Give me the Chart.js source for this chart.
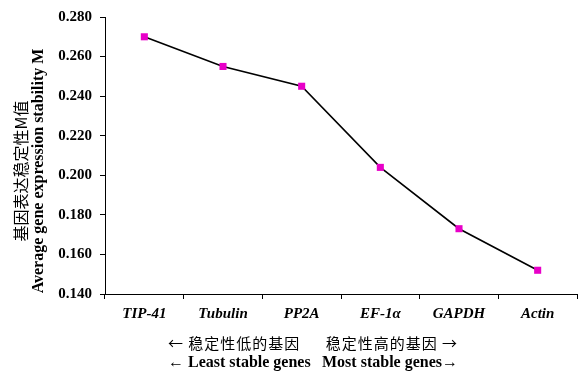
<!DOCTYPE html>
<html>
<head>
<meta charset="utf-8">
<script src="https://cdn.jsdelivr.net/npm/chart.js@4"></script>
<style>
  body { margin: 0; background: #fff; }
  #wrap { width: 587px; height: 376px; }
</style>
</head>
<body>
<div id="wrap"><canvas id="chart"></canvas></div>
<script>
const genes = ['TIP-41', 'Tubulin', 'PP2A', 'EF-1\u03b1', 'GAPDH', 'Actin'];
const stabilityM = [0.270, 0.255, 0.245, 0.204, 0.173, 0.152];
const yTitle = ['基因表达稳定性M值', 'Average gene expression stability M'];
const bottomNotes = [
  ['← 稳定性低的基因', '稳定性高的基因 →'],
  ['← Least stable genes', 'Most stable genes→']
];

const serif = '"Liberation Serif", "Times New Roman", serif';
const cjk = '"Noto Sans CJK SC", sans-serif';

// titles and the bottom notes are drawn by hand
const textPlugin = {
  id: 'extraText',
  afterDraw(chart) {
    const ctx = chart.ctx;
    const area = chart.chartArea;
    ctx.save();
    ctx.fillStyle = '#000';
    ctx.textBaseline = 'middle';

    // y title, rotated
    ctx.save();
    ctx.translate(21, 171);
    ctx.rotate(-Math.PI / 2);
    ctx.textAlign = 'center';
    ctx.font = '16px ' + cjk;
    ctx.fillText(yTitle[0], 0, 0);
    ctx.font = 'bold 16px ' + serif;
    ctx.fillText(yTitle[1], 0, 18);
    ctx.restore();

    // bottom notes
    const lx = area.left + 63, rx = area.left + 353;
    ctx.font = '15px ' + cjk;
    ctx.letterSpacing = '1px';
    ctx.textAlign = 'left';
    ctx.fillText(bottomNotes[0][0], lx, 343);
    ctx.textAlign = 'right';
    ctx.fillText(bottomNotes[0][1], rx, 343);
    ctx.letterSpacing = '0px';
    ctx.font = 'bold 16px ' + serif;
    ctx.textAlign = 'left';
    ctx.fillText(bottomNotes[1][0], lx, 363);
    ctx.textAlign = 'right';
    ctx.fillText(bottomNotes[1][1], rx, 363);
    ctx.restore();
  }
};

new Chart(document.getElementById('chart'), {
  type: 'line',
  data: {
    labels: genes,
    datasets: [{
      data: stabilityM,
      borderColor: '#000',
      borderWidth: 1.6,
      pointStyle: 'rect',
      pointRadius: 5,
      pointBackgroundColor: '#e800c8',
      pointBorderColor: '#e800c8',
      pointBorderWidth: 0,
      tension: 0
    }]
  },
  options: {
    responsive: true,
    maintainAspectRatio: false,
    animation: false,
    layout: { padding: { left: 45, top: 14, right: 10, bottom: 0 } },
    plugins: {
      legend: { display: false },
      tooltip: { enabled: false }
    },
    scales: {
      x: {
        offset: true,
        afterFit(scale) { scale.height = 82; },
        border: { color: '#000', width: 1 },
        grid: {
          offset: true,
          drawOnChartArea: false,
          drawTicks: true,
          tickLength: 5,
          color: '#000'
        },
        ticks: {
          color: '#000',
          padding: 6,
          font: { family: serif, size: 15, weight: 'bold', style: 'italic' }
        }
      },
      y: {
        min: 0.14,
        max: 0.28,
        afterFit(scale) { scale.width = 60; },
        border: { color: '#000', width: 1 },
        grid: {
          drawOnChartArea: false,
          drawTicks: true,
          tickLength: 5,
          color: '#000'
        },
        ticks: {
          stepSize: 0.02,
          color: '#000',
          padding: 8,
          font: { family: serif, size: 15, weight: 'bold' },
          callback: v => Number(v).toFixed(3)
        }
      }
    }
  },
  plugins: [textPlugin]
});
</script>
</body>
</html>
